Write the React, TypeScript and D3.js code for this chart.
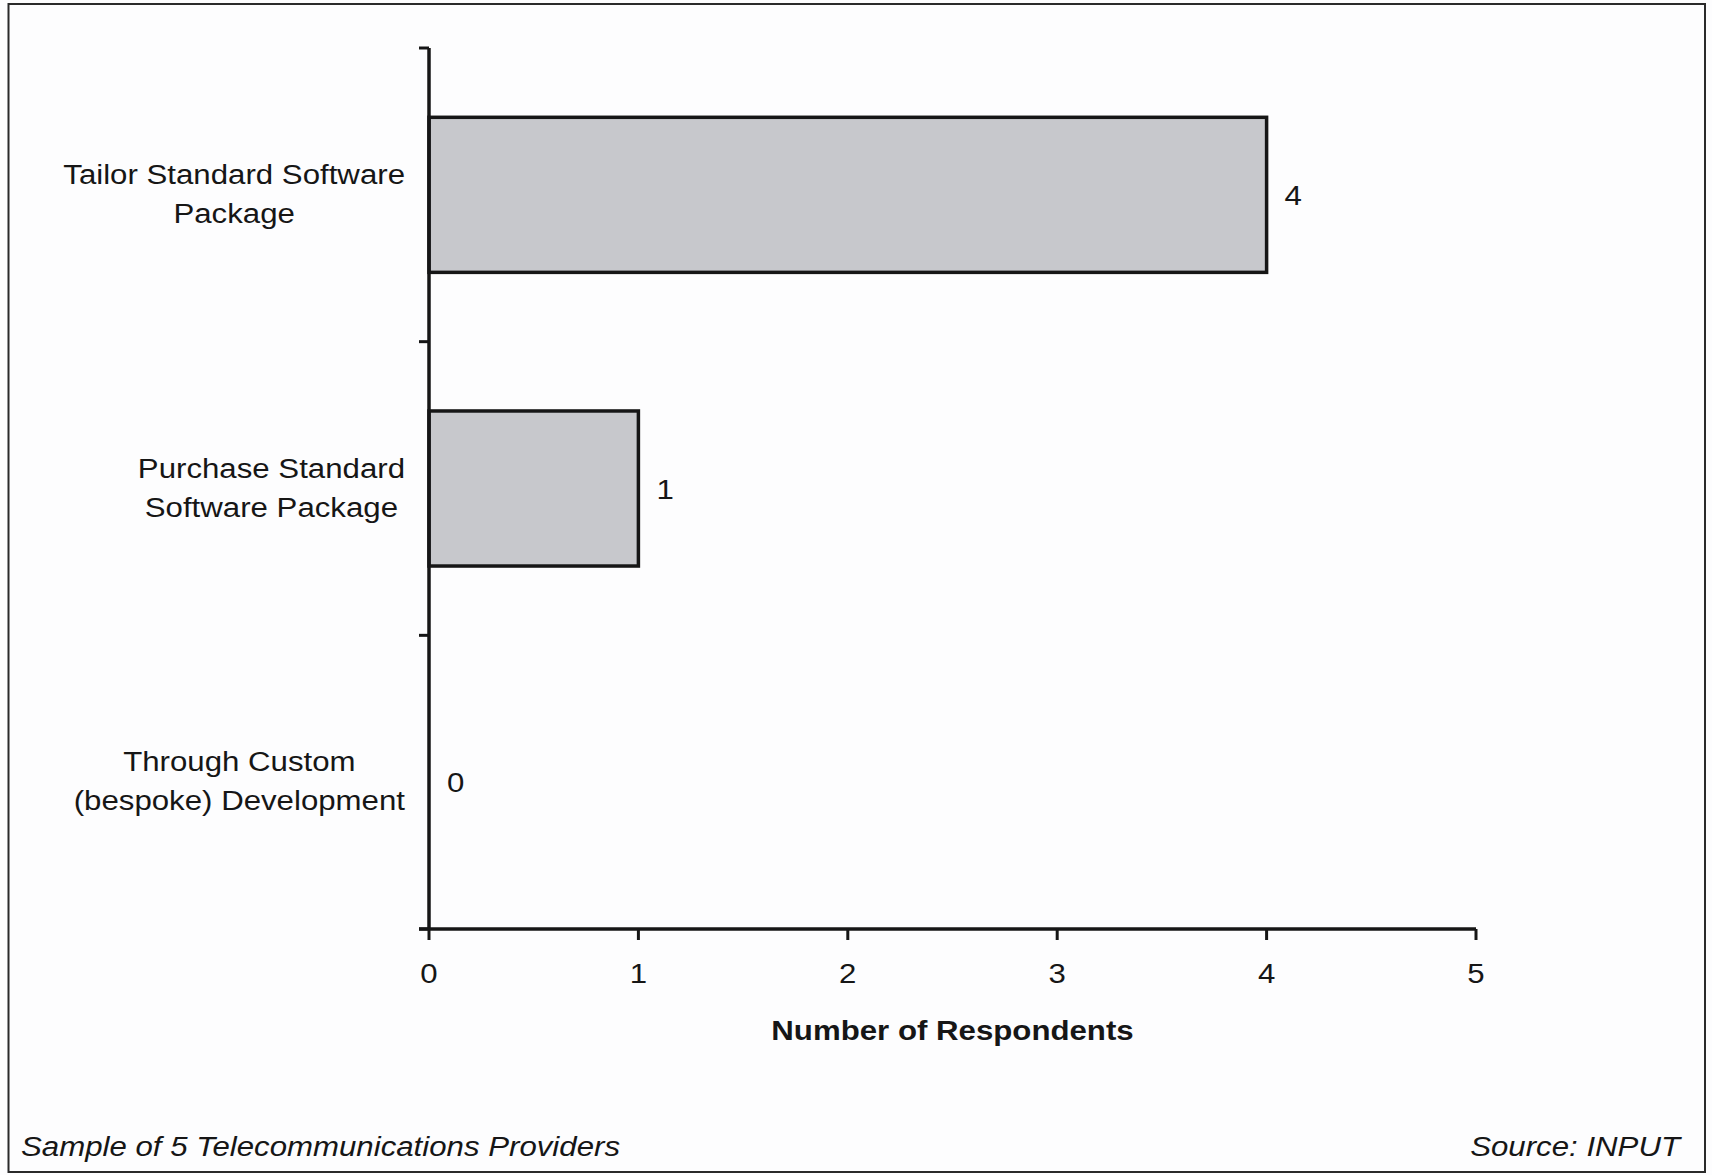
import React, { useEffect, useRef } from 'react';
import * as d3 from 'd3';

const categoryLines: string[][] = [
  ['Tailor Standard Software', 'Package'],
  ['Purchase Standard', 'Software Package'],
  ['Through Custom', '(bespoke) Development'],
];
const categories = categoryLines.map((l) => l.join(' '));
const values = [4, 1, 0];
const xTicks = [0, 1, 2, 3, 4, 5];
const xTitle = 'Number of Respondents';
const footLeft = 'Sample of 5 Telecommunications Providers';
const footRight = 'Source: INPUT';

const W = 1712;
const H = 1175;
const FONT = '"Liberation Sans", Arial, Helvetica, sans-serif';
const FS = 28;
const SX = 1.115;
const INK = '#161616';

export default function App() {
  const ref = useRef<SVGSVGElement | null>(null);

  useEffect(() => {
    const svg = d3.select(ref.current);
    svg.selectAll('*').remove();

    svg.append('rect').attr('x', 0).attr('y', 0).attr('width', W).attr('height', H).attr('fill', '#fdfdfe');
    svg
      .append('rect')
      .attr('x', 8.5)
      .attr('y', 4)
      .attr('width', 1696.5)
      .attr('height', 1168)
      .attr('fill', 'none')
      .attr('stroke', '#2a2a2a')
      .attr('stroke-width', 2);

    const x = d3.scaleLinear().domain([0, 5]).range([429, 1476]);
    const y = d3
      .scaleBand<string>()
      .domain(categories)
      .range([48, 929])
      .paddingInner(0.472)
      .paddingOuter(0.236);
    const step = y.step();
    const bandTop = (c: string) => (y(c) as number) - (step - y.bandwidth()) / 2;
    const bandCenter = (c: string) => (y(c) as number) + y.bandwidth() / 2;

    const addText = (
      g: d3.Selection<any, unknown, null, undefined>,
      tx: number,
      ty: number,
      txt: string,
      anchor: string,
      weight = 'normal',
      style = 'normal'
    ) =>
      g
        .append('text')
        .attr('transform', `translate(${tx},${ty}) scale(${SX},1)`)
        .attr('text-anchor', anchor)
        .attr('font-family', FONT)
        .attr('font-size', FS)
        .attr('font-weight', weight)
        .attr('font-style', style)
        .attr('fill', INK)
        .text(txt);

    const root = svg.append('g');

    // bars
    root
      .selectAll('rect.bar')
      .data(categories)
      .enter()
      .append('rect')
      .attr('class', 'bar')
      .attr('x', x(0))
      .attr('y', (c) => y(c) as number)
      .attr('width', (c, i) => x(values[i]) - x(0))
      .attr('height', y.bandwidth())
      .attr('fill', (c, i) => (values[i] > 0 ? '#c7c8cc' : 'none'))
      .attr('stroke', (c, i) => (values[i] > 0 ? INK : 'none'))
      .attr('stroke-width', 3.5);

    // y axis line + ticks at band boundaries
    root
      .append('line')
      .attr('x1', x(0))
      .attr('x2', x(0))
      .attr('y1', 48)
      .attr('y2', 929)
      .attr('stroke', INK)
      .attr('stroke-width', 3.5);
    const yTickPos = categories.map((c) => bandTop(c)).concat([929]);
    root
      .selectAll('line.ytick')
      .data(yTickPos)
      .enter()
      .append('line')
      .attr('x1', x(0) - 10)
      .attr('x2', x(0))
      .attr('y1', (d) => d)
      .attr('y2', (d) => d)
      .attr('stroke', INK)
      .attr('stroke-width', 3);

    // x axis
    root
      .append('line')
      .attr('x1', x(0) - 10)
      .attr('x2', x(5))
      .attr('y1', 929)
      .attr('y2', 929)
      .attr('stroke', INK)
      .attr('stroke-width', 3.5);
    root
      .selectAll('line.xtick')
      .data(xTicks)
      .enter()
      .append('line')
      .attr('x1', (d) => x(d))
      .attr('x2', (d) => x(d))
      .attr('y1', 929)
      .attr('y2', 940)
      .attr('stroke', INK)
      .attr('stroke-width', 3);
    xTicks.forEach((t) => addText(root, x(t), 983, String(t), 'middle'));

    addText(root, (x(0) + x(5)) / 2, 1040, xTitle, 'middle', 'bold');

    // value labels
    categories.forEach((c, i) => {
      addText(root, x(values[i]) + 18, bandCenter(c) + 10, String(values[i]), 'start');
    });

    // category labels: centered lines, block right-aligned
    const right = 405;
    categoryLines.forEach((lines, i) => {
      const c = categories[i];
      const cy = bandCenter(c);
      const nodes = lines.map((ln) => addText(root, 0, 0, ln, 'middle'));
      const maxW = Math.max(
        ...nodes.map((n) => (n.node() as SVGTextElement).getComputedTextLength() * SX)
      );
      const cx = right - maxW / 2;
      const offs = [-11, 28];
      nodes.forEach((n, k) =>
        n.attr('transform', `translate(${cx},${cy + offs[k]}) scale(${SX},1)`)
      );
    });

    // footer
    addText(root, 21, 1156, footLeft, 'start', 'normal', 'italic');
    addText(root, 1680, 1156, footRight, 'end', 'normal', 'italic');
  }, []);

  return (
    <svg
      ref={ref}
      width={W}
      height={H}
      style={{ position: 'absolute', left: 0, top: 0, display: 'block' }}
    />
  );
}
